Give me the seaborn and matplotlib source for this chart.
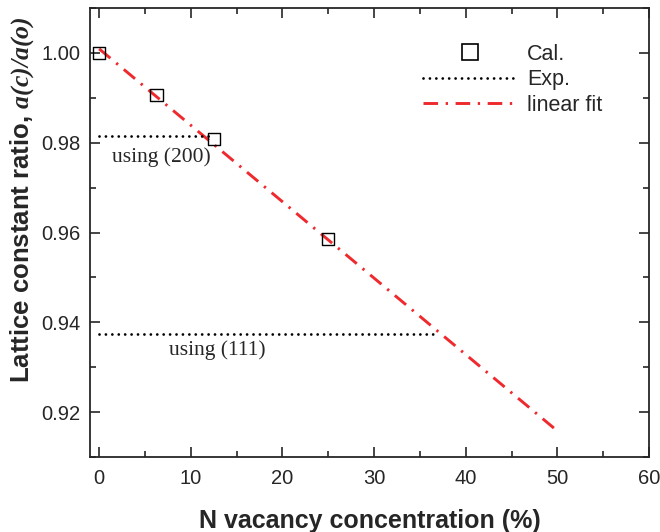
import matplotlib
matplotlib.use("Agg")
import matplotlib.pyplot as plt
import seaborn as sns
import pandas as pd
import numpy as np
from matplotlib.ticker import MultipleLocator
from matplotlib.lines import Line2D

# ---- data ----
cal_x = [0, 6.25, 12.5, 25]
cal_y = [1.000, 0.9906, 0.9808, 0.9585]
fit_x = [0, 50]
fit_y = [1.0009, 0.9158]
exp200_x = [0, 12.5]
exp200_y = [0.9814, 0.9814]
exp111_x = [0, 37.0]
exp111_y = [0.9375, 0.9375]
x_ticks = [0, 10, 20, 30, 40, 50, 60]
y_ticks = [0.92, 0.94, 0.96, 0.98, 1.00]

sns.set_style("ticks")
plt.rcParams['font.family'] = ['Liberation Sans', 'DejaVu Sans']
plt.rcParams['mathtext.fontset'] = 'custom'
plt.rcParams['mathtext.rm'] = 'Liberation Serif'
plt.rcParams['mathtext.it'] = 'Liberation Serif:italic'
plt.rcParams['mathtext.bfit'] = 'Liberation Serif:italic:bold'

fig = plt.figure(figsize=(6.6, 5.32), dpi=100)
ax = fig.add_axes([90/660, 1-457/532, (649-90)/660, (457-8)/532])

red = '#ee2a2e'
dashdot = (0, (5, 2.6, 0.8, 2.6))
dotted = (0, (0.01, 2.3))
sns.lineplot(x=fit_x, y=fit_y, ax=ax, color=red, lw=2.1)
ax.lines[-1].set_linestyle(dashdot)
for xs, ys in [(exp200_x, exp200_y), (exp111_x, exp111_y)]:
    sns.lineplot(x=xs, y=ys, ax=ax, color='black', lw=2.0)
    ln = ax.lines[-1]
    ln.set_linestyle(dotted)
    ln.set_dash_capstyle('round')
sns.scatterplot(x=cal_x, y=cal_y, ax=ax, marker='s', s=80, facecolor='none',
                edgecolor='black', linewidth=1.0, zorder=5)

ax.text(6.8, 0.9767, 'using (200)', family='Liberation Serif', fontsize=15.5,
        ha='center', va='center')
ax.text(12.9, 0.9338, 'using (111)', family='Liberation Serif', fontsize=15.5,
        ha='center', va='center')

ax.set_xlim(-1, 60)
ax.set_ylim(0.91, 1.01)
ax.set_xticks(x_ticks)
ax.set_yticks(y_ticks)
ax.set_yticklabels([f'{v:.2f}' for v in y_ticks])
ax.xaxis.set_minor_locator(MultipleLocator(5))
ax.yaxis.set_minor_locator(MultipleLocator(0.01))
ax.tick_params(which='both', direction='in', top=True, right=True, width=1.2,
               labelsize=14.5)
ax.tick_params(axis='x', pad=9)
ax.tick_params(axis='y', pad=7)
ax.tick_params(which='major', length=7)
ax.tick_params(which='minor', length=4)
for s in ax.spines.values():
    s.set_linewidth(1.3)
    s.set_visible(True)

ax.set_xlabel('N vacancy concentration (%)', fontsize=18, fontweight='bold')
ax.set_ylabel(r'Lattice constant ratio, $\mathbfit{a(c)/a(o)}$', fontsize=18.5,
              fontweight='bold')
ax.xaxis.set_label_coords(0.5, -0.115)
ax.yaxis.set_label_coords(-0.097, 0.572)

handles = [
    Line2D([], [], marker='s', ls='none', mfc='none', mec='black', ms=11, mew=1.2),
    Line2D([], [], color='black', lw=2.0, ls=dotted, dash_capstyle='round'),
    Line2D([], [], color=red, lw=2.1, ls=dashdot),
]
ax.legend(handles, ['Cal.', 'Exp.', 'linear fit'], loc='upper left',
          bbox_to_anchor=(0.595, 0.92), frameon=False, fontsize=15.5,
          handlelength=4.4, handletextpad=0.45, labelspacing=0.2, borderpad=0,
          borderaxespad=0)

fig.savefig('out.png', dpi=100)
